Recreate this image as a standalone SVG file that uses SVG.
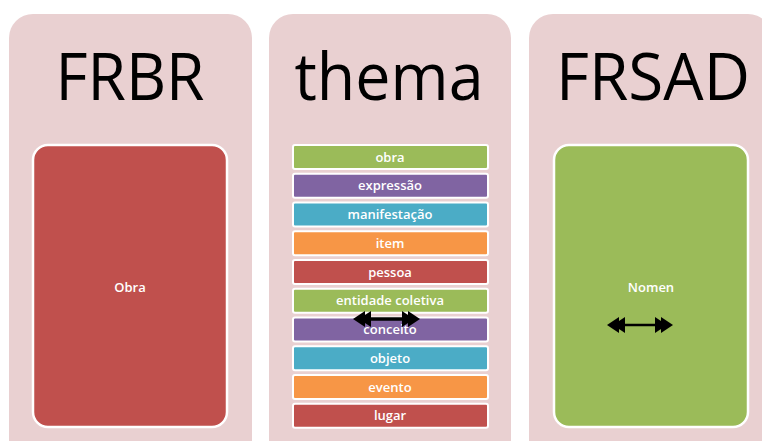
<svg xmlns="http://www.w3.org/2000/svg" width="762" height="441" viewBox="0 0 762 441">
<style>
.panel{fill:#E9D0D1}
.title{font-family:"Open Sans","Noto Sans",sans-serif;font-size:66px;font-weight:500;fill:#000;text-anchor:middle}
.big{stroke:#fff;stroke-width:2.5}
.bar{stroke:#fff;stroke-width:2}
.lbl{font-family:"Open Sans","Noto Sans",sans-serif;font-size:13px;font-weight:600;fill:#fff;text-anchor:middle}
.red{fill:#C0504D}.green{fill:#9BBB59}.purple{fill:#8064A2}.aqua{fill:#4BACC6}.orange{fill:#F79646}
.conn{stroke:#000;fill:none}
</style>
<defs>
<marker id="dbl" viewBox="0 0 22 16" refX="14" refY="8" markerWidth="22" markerHeight="16" markerUnits="userSpaceOnUse" orient="auto-start-reverse">
<path d="M22,8 L10,0 L10,16 Z M16,8 L4,0 L4,16 Z" fill="#000"/>
</marker>
</defs>
<rect width="762" height="441" fill="#fff"/>
<g id="frbr">
<rect class="panel" x="9" y="14" width="243" height="460" rx="24"/>
<text class="title" x="130" y="100" textLength="149" lengthAdjust="spacingAndGlyphs">FRBR</text>
<g id="obra-frbr">
<rect class="big red" x="33" y="145" width="194" height="282" rx="15"/>
<text class="lbl" x="130" y="292">Obra</text>
</g>
</g>
<g id="thema">
<rect class="panel" x="269" y="14" width="242" height="460" rx="24"/>
<text class="title" x="389" y="100" textLength="189" lengthAdjust="spacingAndGlyphs">thema</text>
<g id="t-obra"><rect class="bar green" x="293" y="145" width="195" height="24" rx="2"/><text class="lbl" x="390" y="161.5">obra</text></g>
<g id="t-expressao"><rect class="bar purple" x="293" y="173.75" width="195" height="24" rx="2"/><text class="lbl" x="390" y="190.25">expressão</text></g>
<g id="t-manifestacao"><rect class="bar aqua" x="293" y="202.5" width="195" height="24" rx="2"/><text class="lbl" x="390" y="219">manifestação</text></g>
<g id="t-item"><rect class="bar orange" x="293" y="231.25" width="195" height="24" rx="2"/><text class="lbl" x="390" y="247.75">item</text></g>
<g id="t-pessoa"><rect class="bar red" x="293" y="260" width="195" height="24" rx="2"/><text class="lbl" x="390" y="276.5">pessoa</text></g>
<g id="t-entidade"><rect class="bar green" x="293" y="288.75" width="195" height="24" rx="2"/><text class="lbl" x="390" y="305.25">entidade coletiva</text></g>
<g id="t-conceito"><rect class="bar purple" x="293" y="317.5" width="195" height="24" rx="2"/><text class="lbl" x="390" y="334">conceito</text></g>
<g id="t-objeto"><rect class="bar aqua" x="293" y="346.25" width="195" height="24" rx="2"/><text class="lbl" x="390" y="362.75">objeto</text></g>
<g id="t-evento"><rect class="bar orange" x="293" y="375" width="195" height="24" rx="2"/><text class="lbl" x="390" y="391.5">evento</text></g>
<g id="t-lugar"><rect class="bar red" x="293" y="403.75" width="195" height="24" rx="2"/><text class="lbl" x="390" y="420.25">lugar</text></g>
</g>
<g id="frsad">
<rect class="panel" x="529" y="14" width="243" height="460" rx="24"/>
<text class="title" x="653" y="100" textLength="194" lengthAdjust="spacingAndGlyphs">FRSAD</text>
<g id="nomen">
<rect class="big green" x="554" y="145" width="194" height="282" rx="15"/>
<text class="lbl" x="651" y="292">Nomen</text>
</g>
</g>
<g id="connectors">
<line class="conn" x1="361" y1="319" x2="412" y2="319" stroke-width="3.5" marker-start="url(#dbl)" marker-end="url(#dbl)"/>
<line class="conn" x1="615" y1="325" x2="665" y2="325" stroke-width="2.5" marker-start="url(#dbl)" marker-end="url(#dbl)"/>
</g>
</svg>
